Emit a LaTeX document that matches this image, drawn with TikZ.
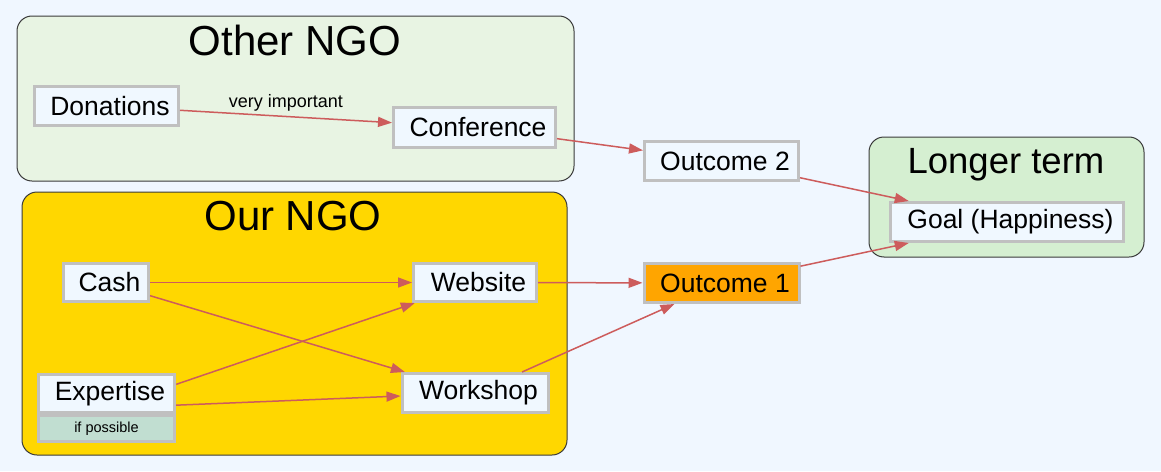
\documentclass[tikz,border=0pt]{standalone}
\usepackage{fontspec}
\setmainfont{Liberation Sans}
\usetikzlibrary{arrows.meta,fit}
\definecolor{bgc}{HTML}{F0F7FF}
\definecolor{othercl}{HTML}{E8F4E3}
\definecolor{ourcl}{HTML}{FFD700}
\definecolor{longcl}{HTML}{D5EFD1}
\definecolor{nodefill}{HTML}{F0F8FF}
\definecolor{nodeborder}{HTML}{C0C0C0}
\definecolor{notefill}{HTML}{C1DED1}
\definecolor{orangefill}{HTML}{FFA500}
\definecolor{edgec}{HTML}{CD5C5C}
\definecolor{clusterline}{HTML}{3A3A3A}
\begin{document}
\begin{tikzpicture}[x=1pt,y=-1pt,
  box/.style={draw=nodeborder, line width=3pt, fill=nodefill, inner sep=0pt,
    minimum height=39pt, font=\fontsize{26.5}{30}\selectfont,
    execute at begin node={\hspace*{7pt}}},
  notebox/.style={draw=nodeborder, line width=3pt, fill=notefill, inner sep=0pt,
    minimum height=26pt, font=\fontsize{14.5}{17}\selectfont},
  cluster/.style={draw=clusterline, line width=1pt, rounded corners=15pt},
  title/.style={anchor=base, inner sep=0pt},
  edge/.style={draw=edgec, line width=1.5pt, -{Triangle[length=14pt,width=10pt]}},
  elabel/.style={font=\fontsize{18}{21}\selectfont, inner sep=0pt, anchor=base}]
\fill[bgc] (0,0) rectangle (1161,471);
\useasboundingbox (0,0) rectangle (1161,471);
% clusters
\draw[cluster, fill=othercl] (17,16) rectangle (574,181);
\draw[cluster, fill=ourcl] (22,192) rectangle (567,455);
\draw[cluster, fill=longcl] (869,137) rectangle (1144,257);
\node[title, font=\fontsize{42}{47}\selectfont] (tother) at (295,55.7) {Other NGO};
\node[title, font=\fontsize{42}{47}\selectfont] (tour) at (293,230.7) {Our NGO};
\node[title, font=\fontsize{36.5}{42}\selectfont] (tlong) at (1006,173) {Longer term};
% nodes
\node[box, minimum width=144pt, minimum height=39pt] (don) at (106.5,106) {Donations};
\node[box, minimum width=162pt, minimum height=40pt] (conf) at (474.5,127.5) {Conference};
\node[box, minimum width=154pt] (out2) at (721.5,161) {Outcome 2};
\node[box, minimum width=233pt] (goal) at (1007,222) {Goal (Happiness)};
\node[box, minimum width=85pt, minimum height=38pt] (cash) at (106,282.5) {Cash};
\node[box, minimum width=123pt, minimum height=38pt] (web) at (475,282.5) {Website};
\node[box, minimum width=155pt, fill=orangefill] (out1) at (721.5,283) {Outcome 1};
\node[box, minimum width=146pt] (work) at (475,393) {Workshop};
\node[notebox, minimum width=136pt] (note) at (106.5,428.5) {if possible};
\node[box, minimum width=136pt, minimum height=38pt] (expt) at (106.5,393.5) {Expertise};
\node[fit=(expt)(note), inner sep=0pt] (expertise) {};
% edges
\draw[edge] (don) -- (conf) node[elabel, midway, yshift=8.5pt] {very important};
\draw[edge] (conf) -- (out2);
\draw[edge] (out2) -- (goal);
\draw[edge] (out1) -- (goal);
\draw[edge] (cash) -- (web);
\draw[edge] (cash) -- (work);
\draw[edge] (expertise) -- (web);
\draw[edge] (expertise) -- (work);
\draw[edge] (web) -- (out1);
\draw[edge] (work) -- (out1);
\end{tikzpicture}
\end{document}
